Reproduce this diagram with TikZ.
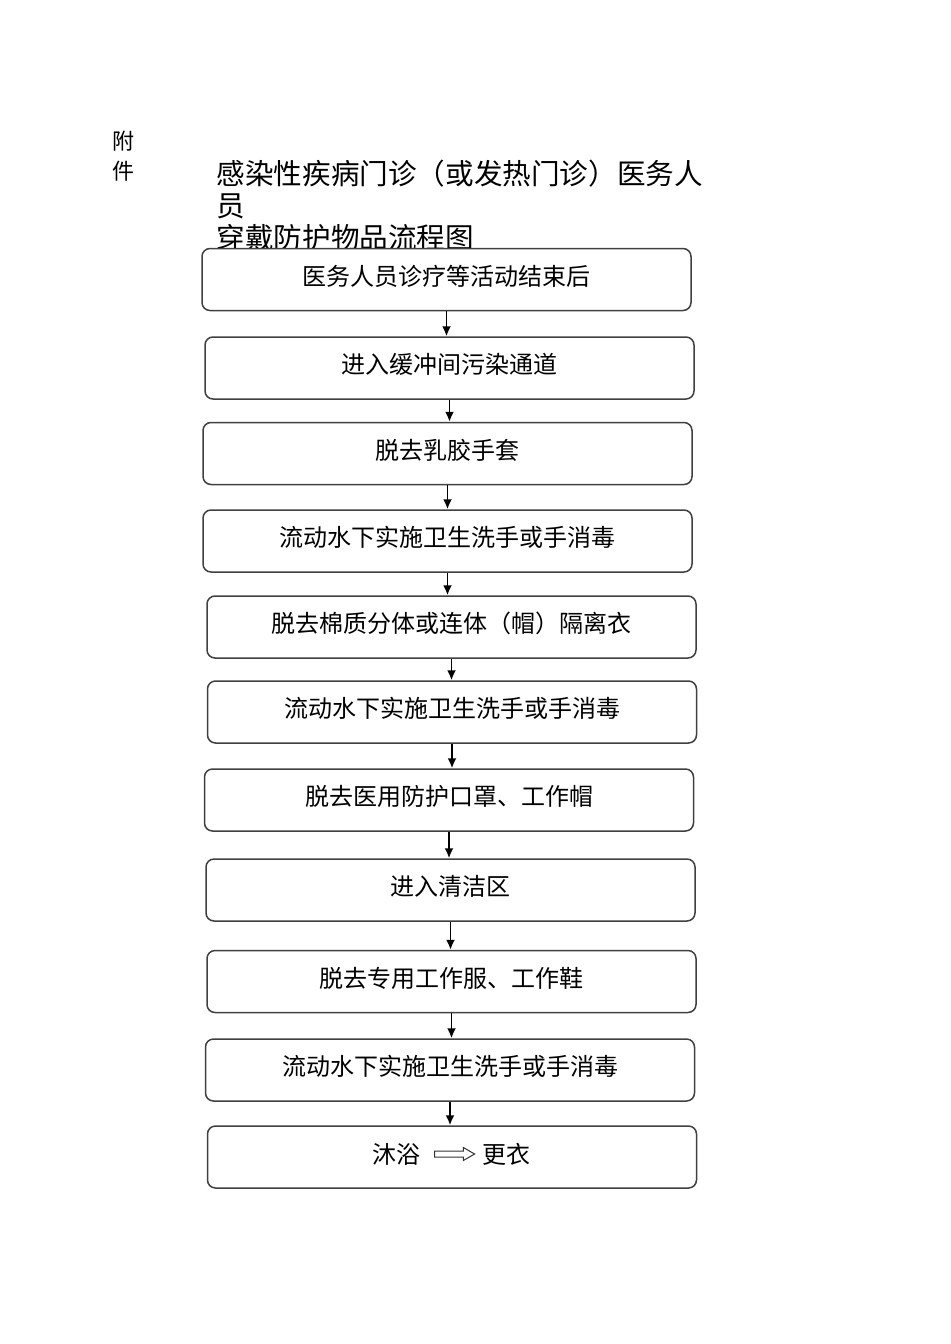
\documentclass[tikz,border=0pt]{standalone}
\usepackage{fontspec}
\usepackage{tikz}
\usetikzlibrary{arrows.meta,positioning,shapes.arrows}
\newfontfamily\cjk{Noto Sans CJK SC}

\begin{document}
\begin{tikzpicture}[x=0.5pt,y=-0.5pt,>={Latex[length=5pt,width=4.5pt]},line width=0.75pt]
          \useasboundingbox (0,0) rectangle (950,1344);
          \tikzset{stepbox/.style={draw=black!75,fill=white,rounded corners=4pt,minimum width=244.5pt,minimum height=31pt,inner sep=0pt,text height=10pt,text depth=4.5pt,font=\cjk\fontsize{12}{14}\selectfont}}
          \tikzset{flow/.style={->,black,line width=0.9pt}}
          \node[font=\cjk\fontsize{11}{15}\selectfont,align=center,inner sep=0pt] (fujian) at (123,156) {附\\件};
          \node[font=\cjk\fontsize{14.3}{16}\selectfont,align=left,anchor=north west,inner sep=0pt] (title) at (216,159) {感染性疾病门诊（或发热门诊）医务人\\员\\穿戴防护物品流程图};
          \node[stepbox] (A) at (446.5,279.5) {医务人员诊疗等活动结束后};
          \node[stepbox] (B) at (449.5,368)   {进入缓冲间污染通道};
          \node[stepbox] (C) at (447.5,453.5) {脱去乳胶手套};
          \node[stepbox] (D) at (447.5,541)   {流动水下实施卫生洗手或手消毒};
          \node[stepbox] (E) at (451.5,627)   {脱去棉质分体或连体（帽）隔离衣};
          \node[stepbox] (F) at (452,712)     {流动水下实施卫生洗手或手消毒};
          \node[stepbox] (G) at (449,800)     {脱去医用防护口罩、工作帽};
          \node[stepbox] (H) at (450.5,890)   {进入清洁区};
          \node[stepbox] (I) at (451.5,981.5) {脱去专用工作服、工作鞋};
          \node[stepbox] (J) at (450,1070)    {流动水下实施卫生洗手或手消毒};
          \node[stepbox] (K) at (452,1157)    {};
          \node[font=\cjk\fontsize{12}{14}\selectfont,inner sep=0pt] (bath) at (396.5,1154) {沐浴};
          \node[font=\cjk\fontsize{12}{14}\selectfont,inner sep=0pt] (dress) at (506,1154) {更衣};
          \node[single arrow,draw=black!80,line width=0.5pt,minimum height=20pt,inner sep=1.25pt,single arrow head extend=1.75pt,single arrow tip angle=60] (then) at (452,1154) {};
          \foreach \from/\to in {A/B,B/C,C/D,D/E,E/F,F/G,G/H,H/I,I/J,J/K}
            \draw[flow] (\from.south) -- (\from.south |- \to.north);
        \end{tikzpicture}
\end{document}
